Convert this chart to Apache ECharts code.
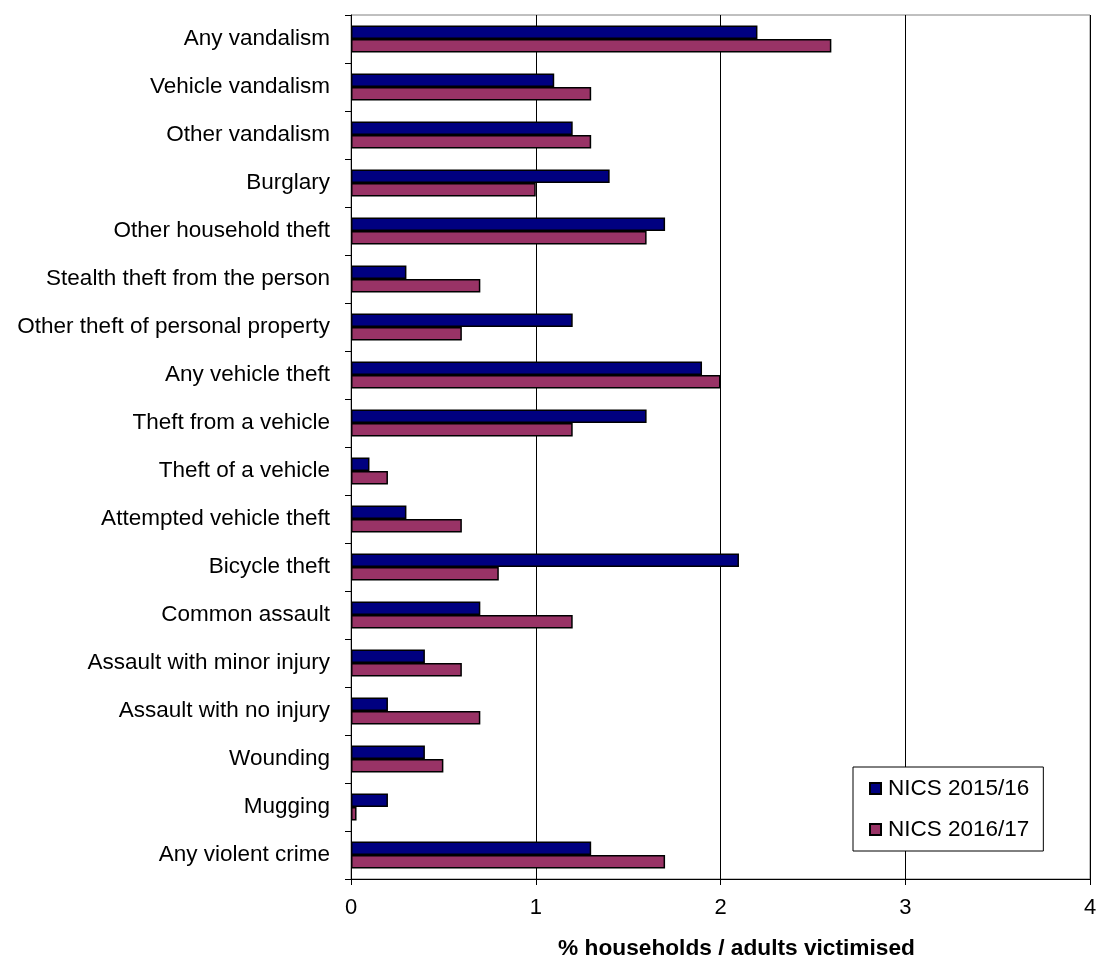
<!DOCTYPE html>
<html>
<head>
<meta charset="utf-8">
<script src="https://cdn.jsdelivr.net/npm/echarts@6/dist/echarts.min.js"></script>
<style>
  html, body { margin: 0; padding: 0; background: #fff; overflow: hidden; }
  #chart { width: 1096px; height: 961px; }
</style>
</head>
<body>
<div id="chart"></div>
<script>
// Crime categories, listed top to bottom
const categories = [
  'Any vandalism',
  'Vehicle vandalism',
  'Other vandalism',
  'Burglary',
  'Other household theft',
  'Stealth theft from the person',
  'Other theft of personal property',
  'Any vehicle theft',
  'Theft from a vehicle',
  'Theft of a vehicle',
  'Attempted vehicle theft',
  'Bicycle theft',
  'Common assault',
  'Assault with minor injury',
  'Assault with no injury',
  'Wounding',
  'Mugging',
  'Any violent crime'
];

// % households / adults victimised
const nics201516 = [2.2, 1.1, 1.2, 1.4, 1.7, 0.3, 1.2, 1.9, 1.6, 0.1, 0.3, 2.1, 0.7, 0.4, 0.2, 0.4, 0.2, 1.3];
const nics201617 = [2.6, 1.3, 1.3, 1.0, 1.6, 0.7, 0.6, 2.0, 1.2, 0.2, 0.6, 0.8, 1.2, 0.6, 0.7, 0.5, 0.03, 1.7];

const seriesNames = ['NICS 2015/16', 'NICS 2016/17'];
const axisTitle = '% households / adults victimised';

const FONT = '"Liberation Sans", Arial, sans-serif';

const chart = echarts.init(document.getElementById('chart'), null, { renderer: 'canvas' });

chart.setOption({
  backgroundColor: '#ffffff',
  animation: false,
  grid: {
    left: 351,
    right: 6,
    top: 15,
    bottom: 82,
    containLabel: false,
    outerBoundsMode: 'none',
    show: true,
    borderColor: '#808080',
    borderWidth: 1,
    backgroundColor: 'transparent'
  },
  legend: {
    orient: 'vertical',
    left: 853,
    top: 767,
    data: seriesNames,
    icon: 'rect',
    itemWidth: 11,
    itemHeight: 11,
    itemGap: 18,
    padding: [10, 14, 10, 16],
    borderColor: '#000',
    borderWidth: 1,
    backgroundColor: '#fff',
    textStyle: {
      fontFamily: FONT,
      fontSize: 22.5,
      color: '#000',
      lineHeight: 22,
      padding: [0, 0, 0, 2]
    }
  },
  xAxis: {
    type: 'value',
    min: 0,
    max: 4,
    interval: 1,
    name: axisTitle,
    nameLocation: 'middle',
    nameGap: 58,
    nameTextStyle: {
      fontFamily: FONT,
      fontSize: 22.7,
      fontWeight: 'bold',
      color: '#000',
      padding: [0, 0, 0, 32]
    },
    axisLine: { show: true, lineStyle: { color: '#000', width: 1 } },
    axisTick: { show: true, length: 6, inside: false, lineStyle: { color: '#000' } },
    axisLabel: {
      fontFamily: FONT,
      fontSize: 22,
      color: '#000',
      margin: 18
    },
    splitLine: { show: true, lineStyle: { color: '#000', width: 1 } }
  },
  yAxis: {
    type: 'category',
    data: categories,
    inverse: true,
    axisLine: { show: true, lineStyle: { color: '#000', width: 1 } },
    axisTick: { show: true, length: 6, inside: false, alignWithLabel: false, lineStyle: { color: '#000' } },
    axisLabel: {
      fontFamily: FONT,
      fontSize: 22.5,
      color: '#000',
      margin: 21,
      interval: 0
    },
    splitLine: { show: false }
  },
  series: [
    {
      name: seriesNames[0],
      type: 'bar',
      data: nics201516,
      barWidth: 13.5,
      barGap: '0%',
      itemStyle: { color: '#000080', borderColor: '#000', borderWidth: 1.5 }
    },
    {
      name: seriesNames[1],
      type: 'bar',
      data: nics201617,
      barWidth: 13.5,
      barGap: '0%',
      itemStyle: { color: '#993366', borderColor: '#000', borderWidth: 1.5 }
    }
  ]
});
</script>
</body>
</html>
